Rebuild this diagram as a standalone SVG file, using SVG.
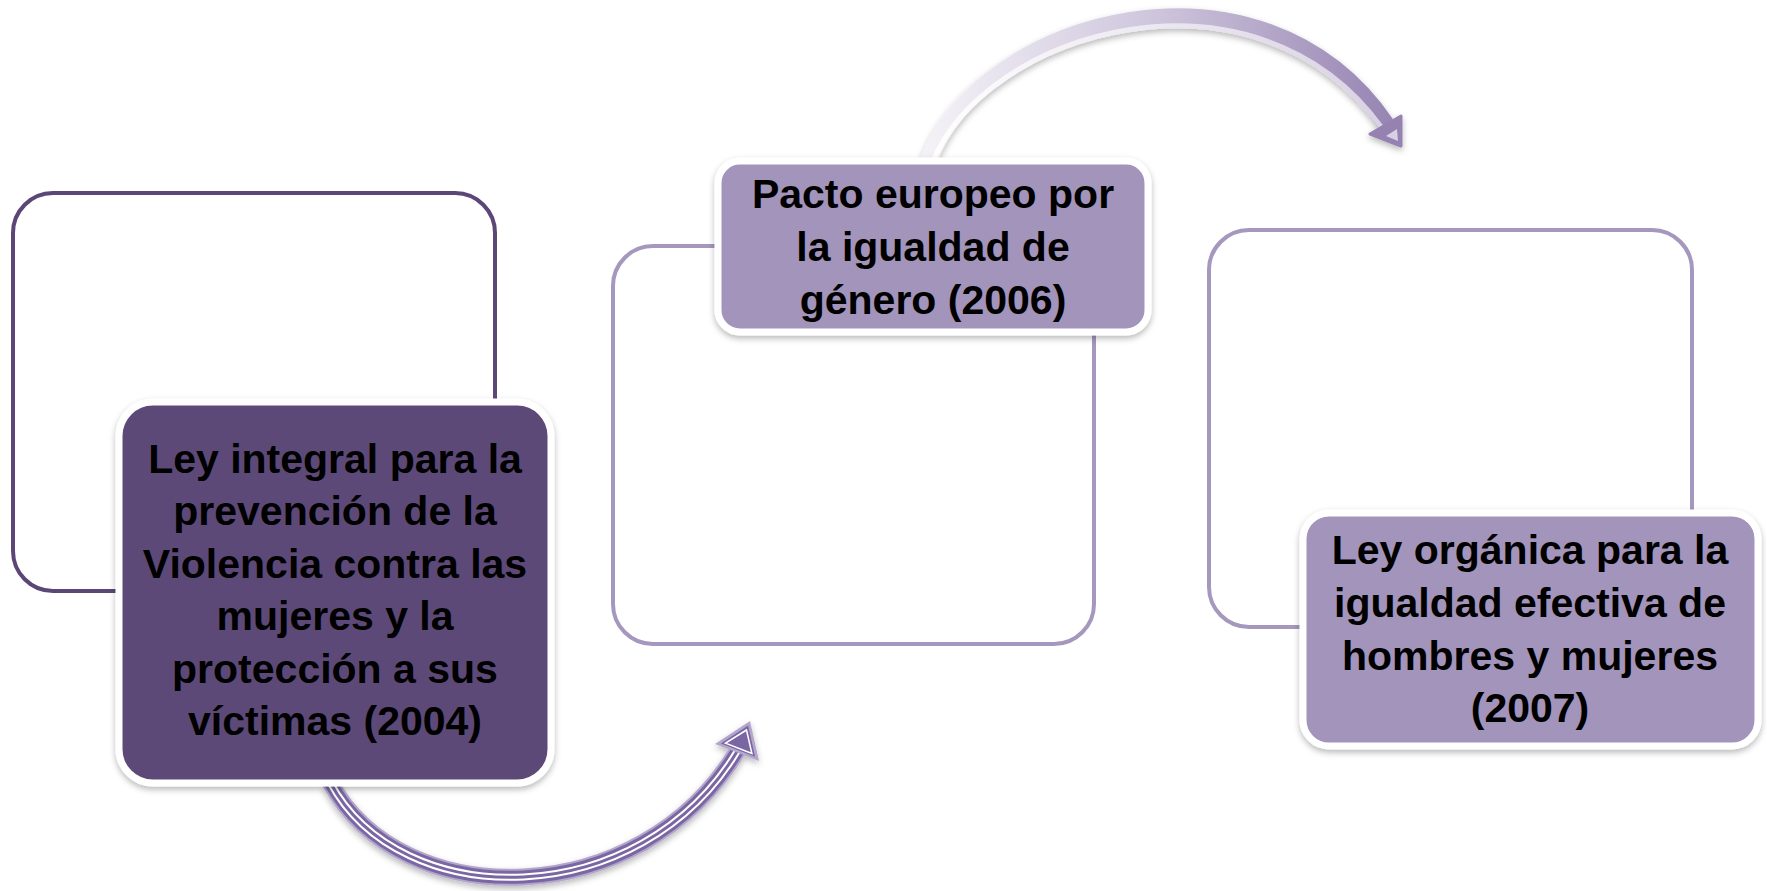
<svg xmlns="http://www.w3.org/2000/svg" width="1767" height="891" viewBox="0 0 1767 891">
<defs>
<style>
.outline{fill:#ffffff;stroke-width:4}
.dark{stroke:#5b4676}
.light{stroke:#a597bd}
.card{stroke:#ffffff;stroke-width:7}
.lbl{font-family:"Liberation Sans",Arial,sans-serif;font-weight:bold;font-size:41px;fill:#000000;text-anchor:middle}
.shaft{fill:none}
</style>
<filter id="sh" x="-10%" y="-10%" width="120%" height="125%">
<feDropShadow dx="0" dy="3" stdDeviation="3" flood-color="#000000" flood-opacity="0.28"/>
</filter>
<linearGradient id="gTop" gradientUnits="userSpaceOnUse" x1="925" y1="0" x2="1400" y2="0">
<stop offset="0" stop-color="#f4f2f7"/>
<stop offset="0.5" stop-color="#cdc4db"/>
<stop offset="1" stop-color="#9582b1"/>
</linearGradient>
<linearGradient id="gTopIn" gradientUnits="userSpaceOnUse" x1="925" y1="0" x2="1400" y2="0">
<stop offset="0" stop-color="#ffffff"/>
<stop offset="1" stop-color="#d8d0e3"/>
</linearGradient>
</defs>
<rect width="1767" height="891" fill="#ffffff"/>
<g id="connectors">
<g id="arrow-bottom" filter="url(#sh)">
<path class="shaft" d="M 330 782 C 400 914, 640 914, 738 750" stroke="#b3a6cc" stroke-width="17"/>
<path class="shaft" d="M 330 782 C 400 914, 640 914, 738 750" stroke="#7a66a3" stroke-width="13"/>
<path class="shaft" d="M 330 782 C 400 914, 640 914, 738 750" stroke="#ffffff" stroke-width="7"/>
<path class="shaft" d="M 330 782 C 400 914, 640 914, 738 750" stroke="#7a66a3" stroke-width="3"/>
<polygon points="750,721 715,744 759,761" fill="#b3a6cc"/>
<polygon points="748.1,725.6 720.8,743.6 755.1,756.8" fill="#7a66a3"/>
<polygon points="746.5,730 725.5,743.2 751.9,753.5" fill="none" stroke="#ffffff" stroke-width="1.5"/>
<polygon points="745.2,733.6 730.5,742.9 749.3,750.6" fill="#7a66a3"/>
</g>
<g id="arrow-top" filter="url(#sh)">
<path class="shaft" d="M 928 162 C 980 20, 1260 -60, 1386 124" stroke="url(#gTop)" stroke-width="17"/>
<path class="shaft" d="M 932 164 C 984 30, 1255 -48, 1382 128" stroke="url(#gTopIn)" stroke-width="5"/>
<polygon points="1401,146 1370,134 1401,116" fill="#9582b1" stroke="#9582b1" stroke-width="3" stroke-linejoin="round"/>
<polygon points="1398,141 1386,136 1397,129" fill="#d8d0e3"/>
</g>
</g>
<g id="node-2004">
<rect class="outline dark" x="13" y="193" width="482" height="398" rx="40"/>
<rect class="card" x="119" y="402" width="432" height="381" rx="34" fill="#5c4878" filter="url(#sh)"/>
<text class="lbl" x="335" y="473">Ley integral para la</text>
<text class="lbl" x="335" y="525">prevención de la</text>
<text class="lbl" x="335" y="578">Violencia contra las</text>
<text class="lbl" x="335" y="630">mujeres y la</text>
<text class="lbl" x="335" y="683">protección a sus</text>
<text class="lbl" x="335" y="735">víctimas (2004)</text>
</g>
<g id="node-2006">
<rect class="outline light" x="613" y="246" width="481" height="398" rx="40"/>
<rect class="card" x="718" y="161" width="430" height="171" rx="22" fill="#a294bb" filter="url(#sh)"/>
<text class="lbl" x="933" y="208">Pacto europeo por</text>
<text class="lbl" x="933" y="261">la igualdad de</text>
<text class="lbl" x="933" y="314">género (2006)</text>
</g>
<g id="node-2007">
<rect class="outline light" x="1209" y="230" width="483" height="397" rx="40"/>
<rect class="card" x="1303" y="513" width="455" height="233" rx="26" fill="#a294bb" filter="url(#sh)"/>
<text class="lbl" x="1530" y="564">Ley orgánica para la</text>
<text class="lbl" x="1530" y="617">igualdad efectiva de</text>
<text class="lbl" x="1530" y="670">hombres y mujeres</text>
<text class="lbl" x="1530" y="722">(2007)</text>
</g>
</svg>
